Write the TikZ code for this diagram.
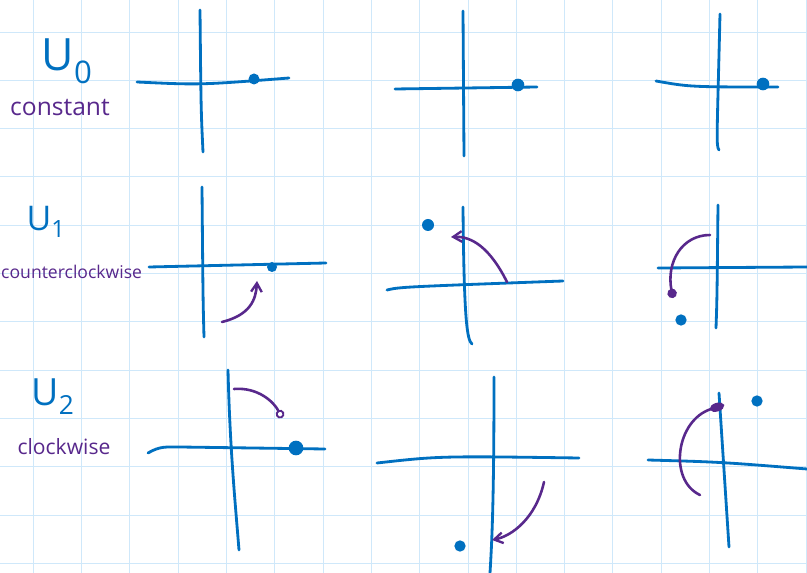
\documentclass[tikz,border=0pt]{standalone}
\usepackage{fontspec}
\setmainfont{Open Sans}
\usepackage{xcolor}
\usepackage{tikz}
\usetikzlibrary{arrows.meta, positioning}
\definecolor{penblue}{RGB}{0, 112, 192}
\definecolor{penpurple}{RGB}{88, 40, 140}
\definecolor{gridblue}{RGB}{207, 232, 250}

\begin{document}
\begin{tikzpicture}[
  x=0.03cm, y=-0.03cm,
  gridline/.style={draw=gridblue, line width=0.8pt},
  axis/.style={draw=penblue, line width=2.4pt, line cap=round},
  move/.style={draw=penpurple, line width=2.2pt, line cap=round},
  barb/.style={move, -{Straight Barb[length=2.6mm, width=3.2mm, line width=2pt]}},
  blob/.style={move, -{Circle[length=2.8mm]}},
  loopy/.style={move, -{Circle[open, length=2.6mm, line width=1.6pt]}},
  flat/.style={move, -{Ellipse[length=4.4mm, width=2.6mm]}},
  dot/.style={circle, fill=penblue, inner sep=0pt, minimum size=#1},
  dot/.default=3.3mm,
  rowname/.style={text=penblue, inner sep=0pt},
  gloss/.style={text=penpurple, inner sep=0pt}
]
  \useasboundingbox (0,0) rectangle (807,573);
  \fill[white] (0,0) rectangle (807,573);

  % squared paper
  \foreach \i in {0,...,16}
    \draw[gridline] ({33.3+48.3*\i},0) -- ({33.3+48.3*\i},573);
  \foreach \j in {0,...,11}
    \draw[gridline] (0,{32+48.3*\j}) -- (807,{32+48.3*\j});

  % labels
  \node[rowname, font=\fontsize{38}{38}\selectfont] (u0) at (67,61) {U\textsubscript{0}};
  \node[gloss, font=\fontsize{21}{21}\selectfont] (c0) at (60,108) {constant};
  \node[rowname, font=\fontsize{29}{29}\selectfont] (u1) at (46,222) {U\textsubscript{1}};
  \node[gloss, font=\fontsize{15}{15}\selectfont, anchor=west] (c1) at (1,272) {counterclockwise};
  \node[rowname, font=\fontsize{32}{32}\selectfont] (u2) at (53,397) {U\textsubscript{2}};
  \node[gloss, font=\fontsize{18}{18}\selectfont] (c2) at (64,447) {clockwise};

  % row 0: constant
  \draw[axis] (137,82) .. controls (200,85) .. (289,78);
  \draw[axis] (200,10) .. controls (201,110) .. (203,152);
  \node[dot=3.3mm] (p01) at (254,79) {};

  \draw[axis] (395,89) -- (537,87);
  \draw[axis] (463,11) -- (464,156);
  \node[dot=3.8mm] (p02) at (518,85) {};

  \draw[axis] (656,81) .. controls (690,87) .. (778,87);
  \draw[axis] (720,14) .. controls (717,140) and (716,146) .. (719,150);
  \node[dot=3.8mm] (p03) at (763,84) {};

  % row 1: counterclockwise
  \draw[axis] (149,267) -- (326,263);
  \draw[axis] (202,187) .. controls (203,300) .. (204,337);
  \node[dot=3mm] (p11) at (272,267) {};
  \coordinate (s11) at (222,322);
  \coordinate (e11) at (257,281);
  \draw[barb] (s11) .. controls (250,315) and (256,300) .. (e11);

  \draw[axis] (387,290) .. controls (400,287) .. (563,281);
  \draw[axis] (463,207) .. controls (464,320) and (467,340) .. (472,344);
  \node[dot=3.6mm] (p12) at (428,225) {};
  \coordinate (s12) at (507,282);
  \coordinate (e12) at (451,237);
  \draw[barb] (s12) .. controls (490,248) and (472,236) .. (e12);

  \draw[axis] (658,268) -- (807,267);
  \draw[axis] (718,205) .. controls (717,300) .. (716,328);
  \node[dot=3.4mm] (p13) at (681,320) {};
  \coordinate (s13) at (710,235);
  \coordinate (e13) at (673,298);
  \draw[blob] (s13) .. controls (682,235) and (666,262) .. (e13);

  % row 2: clockwise
  \draw[axis] (148,453) .. controls (160,446) and (166,447) .. (180,447) -- (325,449);
  \draw[axis] (228,370) .. controls (230,450) and (235,500) .. (239,550);
  \node[dot, minimum width=3.8mm, minimum height=4.4mm] (p21) at (296,448) {};
  \coordinate (s21) at (234,389);
  \coordinate (e21) at (282,418);
  \draw[loopy] (s21) .. controls (258,387) and (274,402) .. (e21);

  \draw[axis] (377,463) .. controls (440,456) .. (579,458);
  \draw[axis] (494,377) .. controls (494,500) and (492,540) .. (490,573);
  \node[dot=3.4mm] (p22) at (460,546) {};
  \coordinate (s22) at (544,482);
  \coordinate (e22) at (492,540);
  \draw[barb] (s22) .. controls (536,518) and (512,536) .. (e22);

  \draw[axis] (648,460) .. controls (720,462) .. (807,469);
  \draw[axis] (719,393) .. controls (724,470) .. (729,547);
  \node[dot=3.4mm] (p23) at (757,401) {};
  \coordinate (s23) at (700,495);
  \coordinate (e23) at (724,405);
  \draw[flat] (s23) .. controls (668,480) and (676,420) .. (e23);
\end{tikzpicture}
\end{document}
